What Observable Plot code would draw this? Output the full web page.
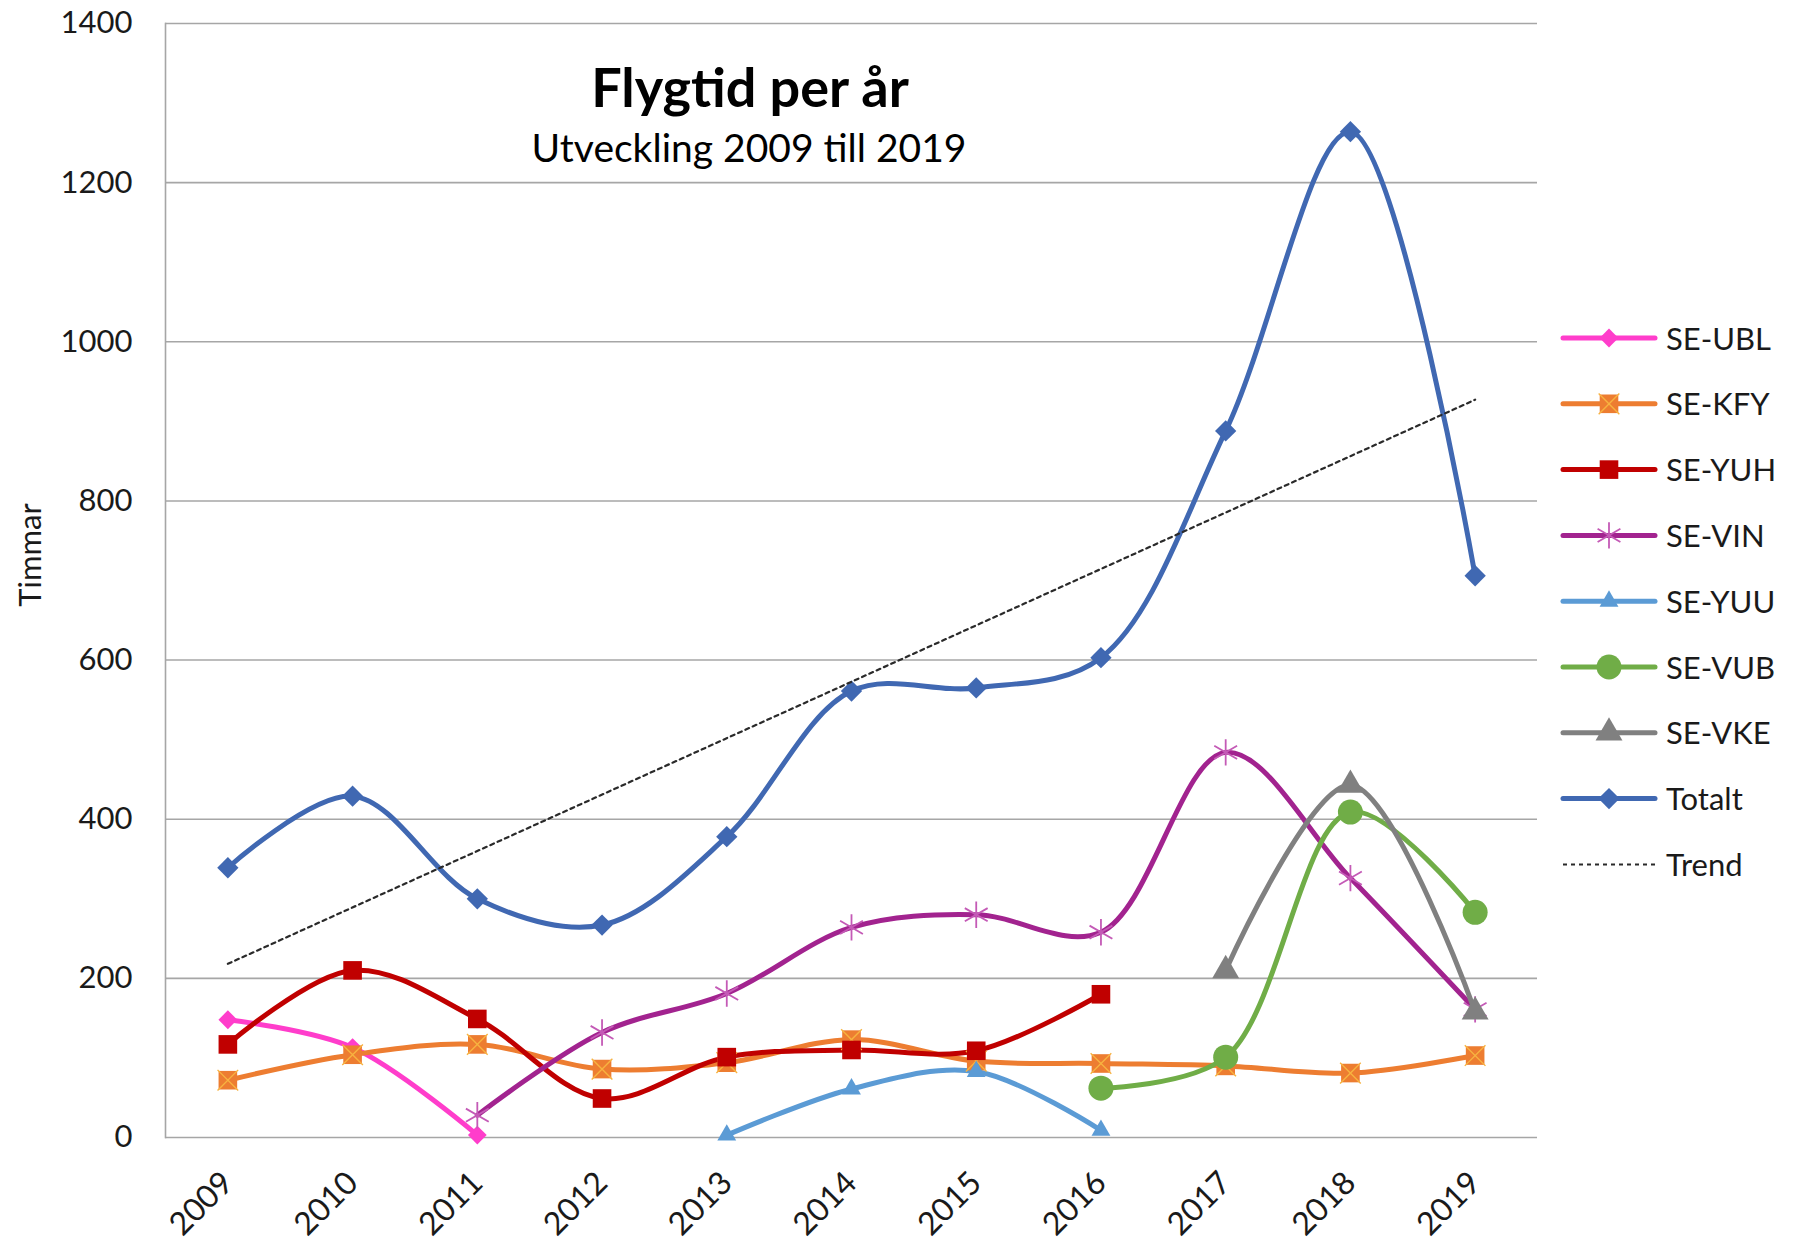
<!DOCTYPE html>
<html>
<head>
<meta charset="utf-8">
<script src="https://cdn.jsdelivr.net/npm/d3@7"></script>
<script src="https://cdn.jsdelivr.net/npm/@observablehq/plot@0.6"></script>
<style>
  html, body { margin: 0; padding: 0; background: #fff; overflow: hidden; }
  #wrap { position: relative; width: 1807px; height: 1253px; font-family: Lato, "Open Sans", sans-serif; }
  #wrap > svg { position: absolute; left: 0; top: 0; }
  #overlay { pointer-events: none; }
</style>
</head>
<body>
<div id="wrap"></div>
<script>
// ---------- data ----------
const years = [2009, 2010, 2011, 2012, 2013, 2014, 2015, 2016, 2017, 2018, 2019];
const seUBL  = [148, 113, 3, null, null, null, null, null, null, null, null];
const seKFY  = [72, 104, 117, 86, 94, 123, 96, 93, 90, 81, 103];
const seYUH  = [117, 210, 149, 49, 101, 110, 109, 180, null, null, null];
const seVIN  = [null, null, 28, 132, 181, 264, 280, 258, 484, 326, 161];
const seYUU  = [null, null, null, null, 3, 61, 83, 9, null, null, null];
const seVUB  = [null, null, null, null, null, null, null, 62, 101, 409, 283];
const seVKE  = [null, null, null, null, null, null, null, null, 210, 443, 158];
const totalt = [339, 429, 300, 267, 378, 561, 565, 603, 888, 1264, 706];
const seriesNames = ["SE-UBL", "SE-KFY", "SE-YUH", "SE-VIN", "SE-YUU", "SE-VUB", "SE-VKE", "Totalt"];
const seriesValues = [seUBL, seKFY, seYUH, seVIN, seYUU, seVUB, seVKE, totalt];
const yTicks = [0, 200, 400, 600, 800, 1000, 1200, 1400];
const titleText = "Flygtid per år";
const subtitleText = "Utveckling 2009 till 2019";
const yLabelText = "Timmar";
const trendLabel = "Trend";

// ---------- styles ----------
const styles = {
  "SE-UBL": {color: "#FF3DCB", symbol: "square", rotate: 45, r: 7.5, fill: "#FF3DCB"},
  "SE-KFY": {color: "#ED7D31", symbol: "square", rotate: 0, r: 10.5, fill: "#ED7D31", cross: "#F7B340"},
  "SE-YUH": {color: "#C00000", symbol: "square", rotate: 0, r: 10.5, fill: "#C00000"},
  "SE-VIN": {color: "#A2238F", symbol: "asterisk", rotate: 0, r: 12.5, fill: "none", mstroke: "#C45AB6"},
  "SE-YUU": {color: "#5B9BD5", symbol: "triangle", rotate: 0, r: 7, fill: "#5B9BD5"},
  "SE-VUB": {color: "#70AD47", symbol: "circle", rotate: 0, r: 12.5, fill: "#70AD47"},
  "SE-VKE": {color: "#808080", symbol: "triangle", rotate: 0, r: 10, fill: "#808080"},
  "Totalt": {color: "#4068B2", symbol: "square", rotate: 45, r: 8.5, fill: "#4068B2"}
};

const rows = [];
seriesNames.forEach((name, si) => {
  seriesValues[si].forEach((v, i) => {
    if (v != null) rows.push({series: name, year: years[i], value: v});
  });
});
const bySeries = name => rows.filter(d => d.series === name);

const marks = [
  Plot.gridY(yTicks, {stroke: "#A6A6A6", strokeOpacity: 1, strokeWidth: 1.6}),
  Plot.frame({anchor: "left", stroke: "#A6A6A6", strokeWidth: 1.6}),
  Plot.axisX({ticks: years, tickFormat: d => String(d), tickSize: 0, tickPadding: 40, tickRotate: -45, label: null, fontSize: 32, fill: "#1a1a1a"}),
  Plot.axisY({ticks: yTicks, tickFormat: d => String(d), tickSize: 0, tickPadding: 33, label: null, fontSize: 31, fill: "#1a1a1a"})
];
seriesNames.forEach(name => {
  const s = styles[name];
  marks.push(Plot.line(bySeries(name), {x: "year", y: "value", curve: "catmull-rom", stroke: s.color, strokeWidth: 5, strokeLinecap: "round"}));
});
seriesNames.forEach(name => {
  const s = styles[name];
  if (s.symbol === "asterisk") {
    marks.push(Plot.dot(bySeries(name), {x: "year", y: "value", symbol: "asterisk", r: s.r, stroke: s.mstroke, strokeWidth: 1.8, fill: "none"}));
  } else {
    marks.push(Plot.dot(bySeries(name), {x: "year", y: "value", symbol: s.symbol, r: s.r, rotate: s.rotate, fill: s.fill, stroke: "none"}));
    if (s.cross) marks.push(Plot.dot(bySeries(name), {x: "year", y: "value", symbol: "times", r: s.r * 0.9, stroke: s.cross, strokeWidth: 1.4}));
  }
});
marks.push(Plot.linearRegressionY(bySeries("Totalt"), {x: "year", y: "value", ci: 0, stroke: "#2a2a2a", strokeWidth: 2.2, strokeDasharray: "4,4"}));

const chart = Plot.plot({
  width: 1807,
  height: 1253,
  marginTop: 23,
  marginLeft: 165,
  marginRight: 270,
  marginBottom: 116,
  style: {fontFamily: "Lato, 'Open Sans', sans-serif", fontSize: "31px", background: "#fff", overflow: "visible"},
  x: {type: "linear", domain: [2008.5, 2019.5]},
  y: {domain: [0, 1400]},
  marks
});
const wrap = document.getElementById("wrap");
wrap.appendChild(chart);

// ---------- overlay: title, subtitle, y label, legend ----------
const ov = d3.select(wrap).append("svg")
  .attr("id", "overlay").attr("width", 1807).attr("height", 1253)
  .style("font-family", "Lato, 'Open Sans', sans-serif");

ov.append("text").attr("x", 750).attr("y", 107).attr("text-anchor", "middle")
  .attr("font-size", 54).attr("font-weight", 700).attr("fill", "#000").text(titleText);
ov.append("text").attr("x", 749).attr("y", 162).attr("text-anchor", "middle")
  .attr("font-size", 39).attr("fill", "#000").text(subtitleText);
ov.append("text").attr("transform", "translate(41,555) rotate(-90)").attr("text-anchor", "middle")
  .attr("font-size", 31).attr("fill", "#1a1a1a").text(yLabelText);

const symMap = {square: d3.symbolSquare, triangle: d3.symbolTriangle, circle: d3.symbolCircle, asterisk: d3.symbolAsterisk, times: d3.symbolTimes};
const legendItems = [...seriesNames, trendLabel];
const lx0 = 1563, lx1 = 1655, ltx = 1666, ly0 = 338, lstep = 65.8;
legendItems.forEach((name, i) => {
  const y = ly0 + i * lstep;
  const g = ov.append("g");
  if (name === trendLabel) {
    g.append("line").attr("x1", lx0).attr("x2", lx1).attr("y1", y).attr("y2", y)
      .attr("stroke", "#2a2a2a").attr("stroke-width", 2).attr("stroke-dasharray", "4,4");
  } else {
    const s = styles[name];
    g.append("line").attr("x1", lx0).attr("x2", lx1).attr("y1", y).attr("y2", y)
      .attr("stroke", s.color).attr("stroke-width", 5).attr("stroke-linecap", "round");
    const cx = (lx0 + lx1) / 2;
    const path = d3.symbol(symMap[s.symbol], Math.PI * s.r * s.r)();
    const m = g.append("path").attr("d", path)
      .attr("transform", `translate(${cx},${y}) rotate(${s.rotate})`);
    if (s.symbol === "asterisk") m.attr("fill", "none").attr("stroke", s.mstroke).attr("stroke-width", 1.8);
    else m.attr("fill", s.fill);
    if (s.cross) g.append("path").attr("d", d3.symbol(d3.symbolTimes, Math.PI * (s.r * 0.9) ** 2)())
      .attr("transform", `translate(${cx},${y})`).attr("fill", "none").attr("stroke", s.cross).attr("stroke-width", 1.4);
  }
  g.append("text").attr("x", ltx).attr("y", y + 11.5).attr("font-size", 31).attr("fill", "#1a1a1a").text(name);
});
</script>
</body>
</html>
